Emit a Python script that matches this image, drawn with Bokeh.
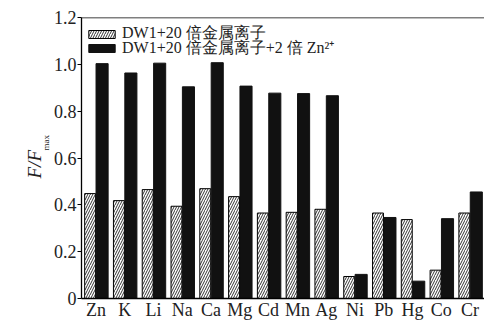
from bokeh.plotting import figure
from bokeh.models import (ColumnDataSource, FactorRange, FixedTicker, Legend,
                          LegendItem, Title, Span)
from bokeh.transform import dodge
from bokeh.embed import file_html
from bokeh.resources import INLINE

metals = ["Zn", "K", "Li", "Na", "Ca", "Mg", "Cd", "Mn", "Ag", "Ni", "Pb", "Hg", "Co", "Cr"]
metal_only = [0.448, 0.418, 0.465, 0.394, 0.469, 0.435, 0.365, 0.368, 0.381, 0.094, 0.365, 0.337, 0.121, 0.365]
metal_zn = [1.003, 0.963, 1.005, 0.904, 1.007, 0.907, 0.877, 0.875, 0.866, 0.103, 0.346, 0.074, 0.341, 0.455]
y_ticks = [0, 0.2, 0.4, 0.6, 0.8, 1.0, 1.2]
y_tick_labels = ["0", "0.2", "0.4", "0.6", "0.8", "1.0", "1.2"]
series_names = ["DW1+20 倍金属离子", "DW1+20 倍金属离子+2 倍 Zn²⁺"]

FONT = "Liberation Serif"
TXT = "#222222"

src = ColumnDataSource(dict(metal=metals, a=metal_only, b=metal_zn))

p = figure(width=484, height=322, x_range=FactorRange(factors=metals, range_padding=0),
           y_range=(0, 1.2), output_backend="svg", toolbar_location=None,
           min_border_left=81, min_border_right=0, min_border_top=17, min_border_bottom=24)

r1 = p.vbar(x=dodge("metal", -0.2, range=p.x_range), top="a", width=0.38, source=src,
            fill_color="white", line_color="black", line_width=1,
            hatch_pattern="/", hatch_color="black", hatch_scale=5, hatch_weight=0.8)
r2 = p.vbar(x=dodge("metal", 0.215, range=p.x_range), top="b", width=0.42, source=src,
            fill_color="#111111", line_color="#111111", line_width=1)

p.xgrid.visible = False
p.ygrid.visible = False
p.outline_line_color = None
p.background_fill_color = "white"
p.border_fill_color = "white"

p.add_layout(Span(location=1.2, dimension="width", line_color="black", line_width=1.3))

p.yaxis.ticker = FixedTicker(ticks=y_ticks)
p.yaxis.major_label_overrides = {t: l for t, l in zip(y_ticks, y_tick_labels)}
p.yaxis.major_tick_out = 4
p.yaxis.major_tick_in = 0
p.yaxis.minor_tick_line_color = None
p.yaxis.axis_line_color = "black"
p.yaxis.axis_line_width = 1.3
p.yaxis.major_label_text_font = FONT
p.yaxis.major_label_text_font_size = "18px"
p.yaxis.major_label_text_color = TXT
p.yaxis.major_label_standoff = 1

p.xaxis.major_tick_line_color = None
p.xaxis.major_tick_out = 0
p.xaxis.major_tick_in = 0
p.xaxis.axis_line_color = "black"
p.xaxis.axis_line_width = 1.3
p.xaxis.major_label_text_font = FONT
p.xaxis.major_label_text_font_size = "18px"
p.xaxis.major_label_text_color = TXT
p.xaxis.major_label_standoff = 1

common = dict(margin=0, padding=0, spacing=0, glyph_width=33, glyph_height=10,
              label_height=15, label_standoff=4, label_text_font=FONT,
              label_text_font_size="16px", label_text_color=TXT,
              background_fill_alpha=0, border_line_color=None)
leg1 = Legend(items=[LegendItem(label=series_names[0], renderers=[r1])],
              location=(4, 254), **common)
leg2 = Legend(items=[LegendItem(label=series_names[1], renderers=[r2])],
              location=(4, 239), **common)
p.add_layout(leg1)
p.add_layout(leg2)

# y-axis label "F/F" with subscript "max", as two side titles
sub = Title(text="max", align="left", offset=148, text_font=FONT,
            text_font_size="9px", text_font_style="normal", text_color=TXT,
            standoff=0, text_line_height=0.6)
main = Title(text="F/F", align="left", offset=120, text_font=FONT,
             text_font_size="19px", text_font_style="italic", text_color=TXT,
             standoff=-12)
p.add_layout(sub, "left")
p.add_layout(main, "left")

open("out.html", "w").write(file_html(p, INLINE))
